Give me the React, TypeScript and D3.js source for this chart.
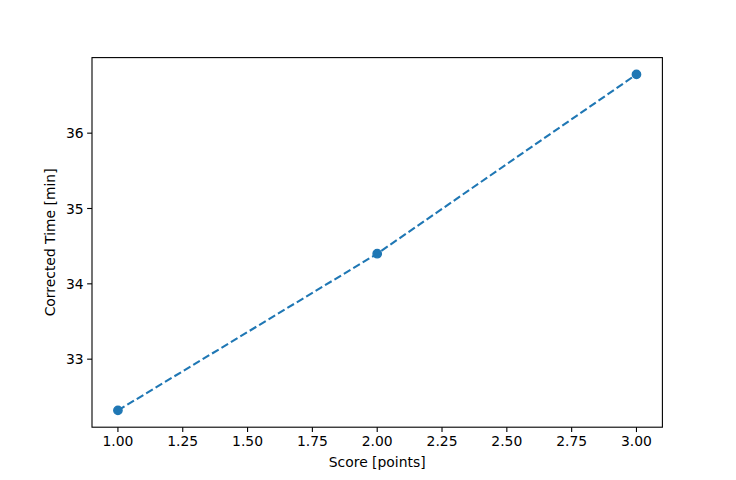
import React from "react";
import * as d3 from "d3";

const scores = [1, 2, 3];
const times = [32.32, 34.4, 36.78];
const xTicks = [1.0, 1.25, 1.5, 1.75, 2.0, 2.25, 2.5, 2.75, 3.0];
const yTicks = [33, 34, 35, 36];
const xLabel = "Score [points]";
const yLabel = "Corrected Time [min]";

export default function App() {
  const W = 736, H = 480;
  const L = 92, R = 662.4, T = 57.6, B = 427.2;
  const xMin = d3.min(scores)!, xMax = d3.max(scores)!;
  const yMin = d3.min(times)!, yMax = d3.max(times)!;
  const xm = (xMax - xMin) * 0.05, ym = (yMax - yMin) * 0.05;
  const x = d3.scaleLinear().domain([xMin - xm, xMax + xm]).range([L, R]);
  const y = d3.scaleLinear().domain([yMin - ym, yMax + ym]).range([B, T]);
  const pts = scores.map((s, i) => [s, times[i]] as [number, number]);
  const line = d3.line<[number, number]>().x(d => x(d[0])).y(d => y(d[1]));
  const font = "DejaVu Sans, sans-serif";
  const fs = 13.9;
  const color = "#1f77b4";
  return (
    <svg width={W} height={H} style={{ position: "absolute", left: 0, top: 0, background: "#fff" }}>
      <rect x={0} y={0} width={W} height={H} fill="#fff" />
      <path d={line(pts)!} fill="none" stroke={color} strokeWidth={2.08} strokeDasharray="7.7,3.3" />
      {pts.map((p, i) => (
        <circle key={i} cx={x(p[0])} cy={y(p[1])} r={4.17} fill={color} stroke={color} strokeWidth={1.39} />
      ))}
      <rect x={L} y={T} width={R - L} height={B - T} fill="none" stroke="#000" strokeWidth={1.1} />
      {xTicks.map(t => (
        <g key={"x" + t}>
          <line x1={x(t)} x2={x(t)} y1={B} y2={B + 4.86} stroke="#000" strokeWidth={1.1} />
          <text x={x(t)} y={B + 8.4} dy="0.76em" textAnchor="middle" fontFamily={font} fontSize={fs} fill="#000">
            {t.toFixed(2)}
          </text>
        </g>
      ))}
      {yTicks.map(t => (
        <g key={"y" + t}>
          <line x1={L - 4.86} x2={L} y1={y(t)} y2={y(t)} stroke="#000" strokeWidth={1.1} />
          <text x={L - 8.4} y={y(t)} dy="0.36em" textAnchor="end" fontFamily={font} fontSize={fs} fill="#000">
            {t}
          </text>
        </g>
      ))}
      <text x={(L + R) / 2} y={467} textAnchor="middle" fontFamily={font} fontSize={fs} fill="#000">
        {xLabel}
      </text>
      <text transform={`translate(55,${(T + B) / 2}) rotate(-90)`} textAnchor="middle" fontFamily={font} fontSize={fs} fill="#000">
        {yLabel}
      </text>
    </svg>
  );
}
